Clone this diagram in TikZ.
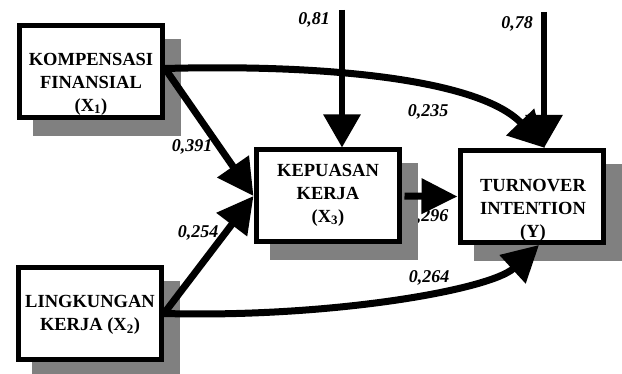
\documentclass[tikz,border=0pt]{standalone}
\usepackage{fontspec}
\setmainfont{Liberation Serif}
\usetikzlibrary{arrows.meta,shadows}
\definecolor{shadowgray}{RGB}{128,128,128}
\begin{document}
\begin{tikzpicture}[x=1pt,y=-1pt,
  box/.style={rectangle, minimum width=148pt, minimum height=97pt, inner sep=0pt, outer sep=0pt, fill=white,
    drop shadow={shadow xshift=16pt, shadow yshift=-16pt, fill=shadowgray, opacity=1}},
  border/.style={line width=5pt},
  boxtext/.style={align=center, inner sep=0pt, font=\fontsize{18.5}{23}\selectfont\bfseries},
  coef/.style={inner sep=0pt, font=\fontsize{18}{20}\selectfont\bfseries\itshape},
  conn/.style={line width=7pt, -{Triangle[length=36pt,width=37pt]}},
  resid/.style={line width=6pt, -{Triangle[length=33pt,width=36pt]}}
]
\useasboundingbox (0,0) rectangle (622,374);
% label partly hidden by the shadow of X3
\node[coef] (c296) at (428,217) {0,296};
% boxes with shadows
\node[box] (x1) at (91,71.5) {};
\node[box] (x2) at (90,313.5) {};
\node[box] (x3) at (327.5,196) {};
\node[box] (y)  at (531.5,196.5) {};
% texts
\node[boxtext] (x1t) at (91,84) {KOMPENSASI\\FINANSIAL\\(X\textsubscript{1})};
\node[boxtext] (x2t) at (90,315) {LINGKUNGAN\\KERJA (X\textsubscript{2})};
\node[boxtext] (x3t) at (328,195) {KEPUASAN\\KERJA\\(X\textsubscript{3})};
\node[boxtext] (yt)  at (533,210) {TURNOVER\\INTENTION\\(Y)};
% borders on top
\foreach \n in {x1,x2,x3,y}
  \draw[border] ([xshift=2.5pt,yshift=-2.5pt]\n.north west) rectangle ([xshift=-2.5pt,yshift=2.5pt]\n.south east);
% connectors
\draw[conn] ([yshift=3pt]x1.east) -- (x3.west);
\draw[conn] (x2.east) -- (x3.west);
\draw[conn, shorten <=3pt, -{Triangle[length=36pt,width=34pt]}] (x3.east) -- (y.west);
\draw[conn] ([yshift=3pt]x1.east) .. controls (330,64) and (480,80) .. ([xshift=13.5pt]y.north);
\draw[conn] (x2.east) .. controls (330,318) and (490,290) .. ([xshift=7.5pt]y.south);
\coordinate (e3) at (342,10);
\coordinate (ey) at (544,12);
\draw[resid] (e3) -- (e3 |- x3.north);
\draw[resid] (ey) -- (ey |- y.north);
% coefficients
\node[coef] (c81)  at (314,20) {0,81};
\node[coef] (c78)  at (517,24) {0,78};
\node[coef] (c235) at (428,112) {0,235};
\node[coef] (c391) at (192,147) {0,391};
\node[coef] (c254) at (198,233) {0,254};
\node[coef] (c264) at (429,278) {0,264};
\end{tikzpicture}
\end{document}
